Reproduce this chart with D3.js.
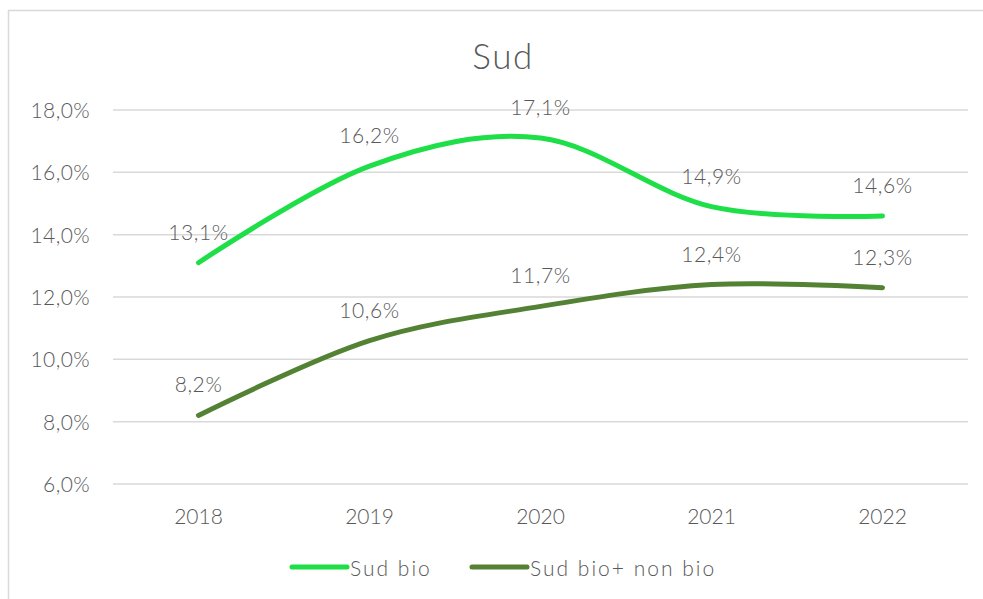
<!DOCTYPE html>
<html><head><meta charset="utf-8">
<script src="https://cdn.jsdelivr.net/npm/d3@7"></script>
<style>
body{margin:0;background:#fff;}
text{font-family:"Lato","Noto Sans",sans-serif;fill:#595959;font-weight:300;}
</style></head>
<body><svg id="c" width="983" height="599"></svg>
<script>
const years = ["2018","2019","2020","2021","2022"];
const sudBio = [13.1, 16.2, 17.1, 14.9, 14.6];
const sudAll = [8.2, 10.6, 11.7, 12.4, 12.3];
const yTicks = [6, 8, 10, 12, 14, 16, 18];
const seriesNames = ["Sud bio", "Sud bio+ non bio"];
const colors = ["#1EDF48", "#548235"];

const svg = d3.select("#c");
svg.append("rect").attr("x",8.5).attr("y",10.5).attr("width",990).attr("height",600)
  .attr("fill","#fff").attr("stroke","#d9d9d9").attr("stroke-width",1.5);

const x = d3.scaleBand().domain(years).range([113, 968]);
const y = d3.scaleLinear().domain([6, 18]).range([484, 110]);
const fmt = v => v.toFixed(1).replace(".", ",") + "%";

svg.append("text").attr("x", 503).attr("y", 69).attr("text-anchor","middle")
  .style("font-size","35px").style("letter-spacing","1.5px").text("Sud");

const gy = svg.append("g");
gy.selectAll("line").data(yTicks).join("line")
  .attr("x1",113).attr("x2",968).attr("y1",d=>y(d)).attr("y2",d=>y(d))
  .attr("stroke","#d9d9d9").attr("stroke-width",1.5);
gy.selectAll("text").data(yTicks).join("text")
  .attr("x",90).attr("y",d=>y(d)+8).attr("text-anchor","end")
  .style("font-size","21px").style("letter-spacing","0.4px").text(d=>fmt(d));

svg.append("g").selectAll("text").data(years).join("text")
  .attr("x",d=>x(d)+x.bandwidth()/2).attr("y",524).attr("text-anchor","middle")
  .style("font-size","21px").text(d=>d);

const line = d3.line().x((d,i)=>x(years[i])+x.bandwidth()/2).y(d=>y(d)).curve(d3.curveCatmullRom.alpha(0));
[sudAll, sudBio].forEach((s, k) => {
  const c = k===0 ? colors[1] : colors[0];
  svg.append("path").attr("d", line(s)).attr("fill","none").attr("stroke",c)
    .attr("stroke-width",5).attr("stroke-linecap","round").attr("stroke-linejoin","round");
});
[sudBio, sudAll].forEach(s => {
  svg.append("g").selectAll("text").data(s).join("text")
    .attr("x",(d,i)=>x(years[i])+x.bandwidth()/2).attr("y",d=>y(d)-23)
    .attr("text-anchor","middle").style("font-size","21px").style("letter-spacing","0.6px").text(d=>fmt(d));
});

const leg = [{x:292, name:seriesNames[0], c:colors[0]},{x:472, name:seriesNames[1], c:colors[1]}];
leg.forEach(l=>{
  svg.append("line").attr("x1",l.x).attr("x2",l.x+55).attr("y1",567).attr("y2",567)
    .attr("stroke",l.c).attr("stroke-width",5).attr("stroke-linecap","round");
  svg.append("text").attr("x",l.x+58).attr("y",576).style("font-size","21px").style("letter-spacing","2px").text(l.name);
});
</script></body></html>
